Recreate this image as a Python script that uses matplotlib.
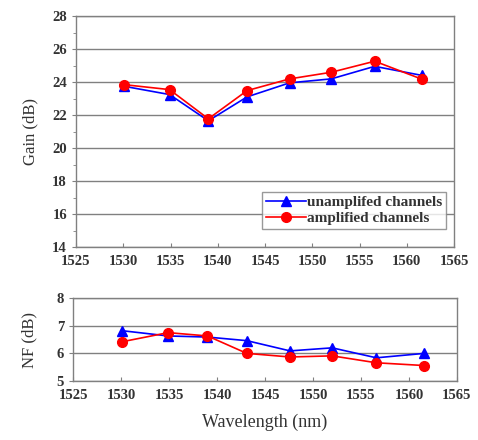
import matplotlib
matplotlib.use('Agg')
import matplotlib.pyplot as plt
from matplotlib.ticker import MultipleLocator

plt.rcParams['font.family'] = ['Liberation Serif', 'DejaVu Serif']

# wavelengths of the channels (nm)
wl = [1530.1, 1534.9, 1539.0, 1543.1, 1547.6, 1552.0, 1556.6, 1561.6]

# gain (dB)
gain_unamp = [23.74, 23.24, 21.65, 23.10, 23.95, 24.19, 24.95, 24.40]
gain_amp = [23.84, 23.54, 21.77, 23.48, 24.19, 24.59, 25.26, 24.17]

# noise figure (dB)
nf_unamp = [6.82, 6.63, 6.59, 6.46, 6.09, 6.20, 5.84, 6.00]
nf_amp = [6.42, 6.75, 6.63, 6.00, 5.87, 5.91, 5.66, 5.56]

fig = plt.figure(figsize=(4.78, 4.40), dpi=100)
ax1 = fig.add_axes([0.159, 0.4386, 0.791, 0.525])
ax2 = fig.add_axes([0.153, 0.134, 0.803, 0.1886])

frame_col = '#808080'
txt_col = '#333333'

def style(ax):
    for s in ax.spines.values():
        s.set_color(frame_col)
        s.set_linewidth(1.0)
    ax.yaxis.grid(True, color=frame_col, linewidth=1.0)
    ax.set_axisbelow(True)
    ax.tick_params(axis='both', labelsize=10.5, colors=frame_col, labelcolor=txt_col, length=3)
    ax.tick_params(axis='x', direction='in', pad=6)
    for lab in ax.get_xticklabels() + ax.get_yticklabels():
        lab.set_fontweight('bold')
    ax.set_xlim(1525, 1565)
    ax.xaxis.set_major_locator(MultipleLocator(5))

ax1.plot(wl, gain_unamp, '-^', color='blue', markersize=7, linewidth=1.2, label='unamplifed channels')
ax1.plot(wl, gain_amp, '-o', color='red', markersize=7, linewidth=1.2, label='amplified channels')
ax1.set_ylim(14, 28)
ax1.yaxis.set_major_locator(MultipleLocator(2))
ax1.yaxis.set_minor_locator(MultipleLocator(1))
ax1.tick_params(axis='y', which='minor', length=2, color=frame_col)
ax1.set_ylabel('Gain (dB)', fontsize=12, color=txt_col, labelpad=10)
style(ax1)
leg = ax1.legend(loc='lower right', bbox_to_anchor=(0.979, 0.078), fontsize=11,
                 frameon=True, fancybox=False, handlelength=2.6, handletextpad=0.1,
                 borderpad=0.25, labelspacing=0.15, borderaxespad=0)
leg.get_frame().set_edgecolor(frame_col)
leg.get_frame().set_linewidth(1.0)
for t in leg.get_texts():
    t.set_fontweight('bold')
    t.set_color(txt_col)

ax2.plot(wl, nf_unamp, '-^', color='blue', markersize=7, linewidth=1.2)
ax2.plot(wl, nf_amp, '-o', color='red', markersize=7, linewidth=1.2)
ax2.set_ylim(5, 8)
ax2.yaxis.set_major_locator(MultipleLocator(1))
ax2.set_ylabel('NF (dB)', fontsize=12, color=txt_col, labelpad=14)
ax2.set_xlabel('Wavelength (nm)', fontsize=13, color=txt_col, labelpad=8)
style(ax2)

fig.savefig('out.png', dpi=100)
